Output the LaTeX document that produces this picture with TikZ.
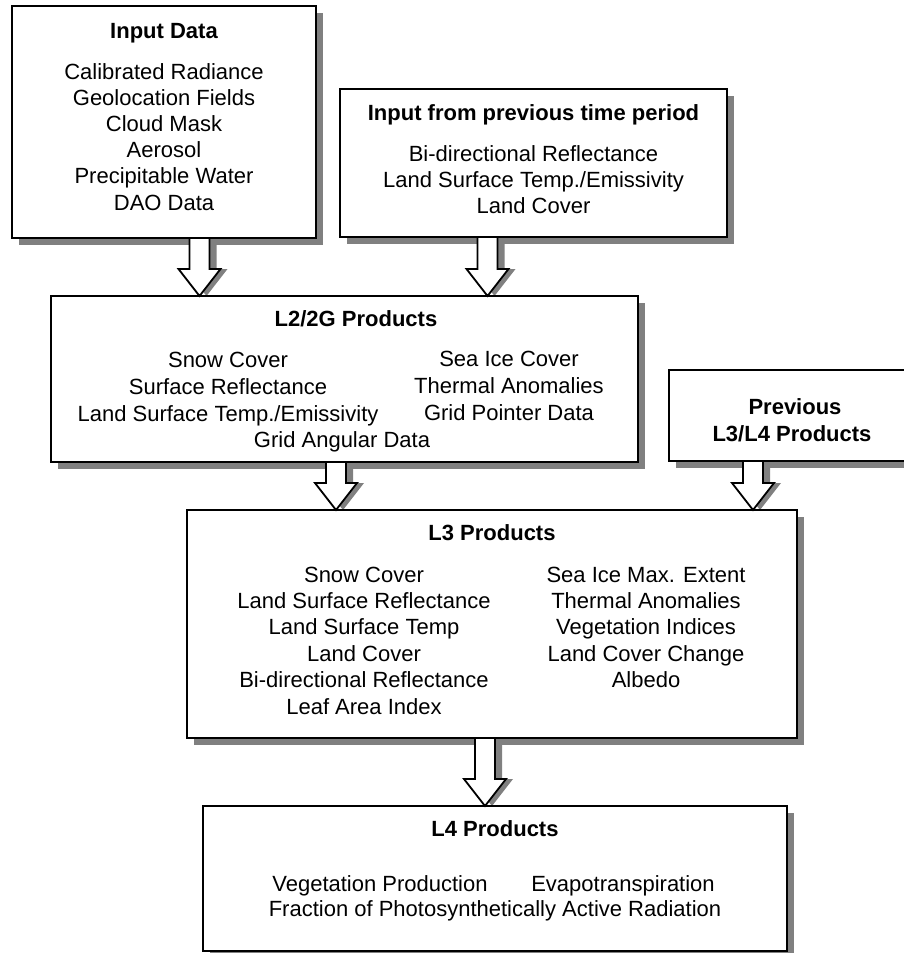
\documentclass[tikz,border=0pt]{standalone}
\usepackage{fontspec}
\setmainfont{Liberation Sans}
\usetikzlibrary{calc,fit,shadows}
\pgfdeclarelayer{bg}
\pgfsetlayers{bg,main}
\tikzset{
  box/.style={draw=black, line width=1.8pt, fill=white, inner sep=0pt, outer sep=0pt,
    drop shadow={shadow xshift=7pt, shadow yshift=-7pt, fill=black!50, opacity=1}},
  txt/.style={anchor=base, inner sep=0pt, font=\fontsize{22}{26.4}\selectfont},
  ttl/.style={anchor=base, inner sep=0pt, font=\fontsize{22}{26.4}\selectfont\bfseries},
  arrowbody/.style={draw=black, line width=1.8pt, fill=white, line join=miter},
  arrowshadow/.style={fill=black!50},
}
\newcommand{\arrowpoly}[3]{%
  let \p1=(#2.south), \p2=(#3.north) in
  ({#1pt-10pt},\y1) -- ({#1pt-10pt},{\y2+27pt}) -- ({#1pt-21pt},{\y2+27pt}) --
  ({#1pt},\y2) -- ({#1pt+21pt},{\y2+27pt}) -- ({#1pt+10pt},{\y2+27pt}) --
  ({#1pt+10pt},\y1) -- cycle}
\newcommand{\blockarrow}[3]{%
  \begin{pgfonlayer}{bg}
    \path[arrowshadow, shift={(7pt,-7pt)}] \arrowpoly{#1}{#2}{#3};
  \end{pgfonlayer}
  \path[arrowbody] \arrowpoly{#1}{#2}{#3};
}
\newcommand{\textlines}[5]{% prefix, x, first baseline, spacing, list
  \foreach \lbl [count=\i] in {#5}
    \node[txt] (#1-\i) at (#2, {#3+(\i-1)*#4}) {\lbl};
}
\begin{document}
\begin{tikzpicture}[x=1pt, y=-1pt]
\useasboundingbox (0,0) rectangle (903,953);

% boxes
\node[box, fit={(12,6) (316,238)}] (in1) {};
\node[box, fit={(340,89) (727,237)}] (in2) {};
\node[box, fit={(51,296) (638,462)}] (l2) {};
\node[box, fit={(669,370) (922,461)}] (prev) {};
\node[box, fit={(187,510) (797,738)}] (l3) {};
\node[box, fit={(203,806) (787,951)}] (l4) {};

% Input Data
\node[ttl] (in1t) at (164,38) {Input Data};
\textlines{in1l}{164}{79}{26.2}{Calibrated Radiance,Geolocation Fields,Cloud Mask,Aerosol,Precipitable Water,DAO Data}

% Input from previous time period
\node[ttl] (in2t) at (533.5,120) {Input from previous time period};
\textlines{in2l}{533.5}{161}{26}{Bi-directional Reflectance,Land Surface Temp./Emissivity,Land Cover}

% L2/2G
\node[ttl] (l2t) at (356,326) {L2/2G Products};
\textlines{l2a}{228}{367}{27}{Snow Cover,Surface Reflectance,Land Surface Temp./Emissivity}
\textlines{l2b}{509}{366}{27}{Sea Ice Cover,Thermal Anomalies,Grid Pointer Data}
\node[txt] (l2c) at (342,447) {Grid Angular Data};

% Previous
\node[ttl] (prevt1) at (795,414) {Previous};
\node[ttl] (prevt2) at (792,441) {L3/L4 Products};

% L3
\node[ttl] (l3t) at (492,540) {L3 Products};
\textlines{l3a}{364}{582}{26.4}{Snow Cover,Land Surface Reflectance,Land Surface Temp,Land Cover,Bi-directional Reflectance,Leaf Area Index}
\textlines{l3b}{646}{582}{26.4}{Sea Ice Max. Extent,Thermal Anomalies,Vegetation Indices,Land Cover Change,Albedo}

% L4
\node[ttl] (l4t) at (495,836) {L4 Products};
\node[txt] (l4a) at (380,891) {Vegetation Production};
\node[txt] (l4b) at (623,891) {Evapotranspiration};
\node[txt] (l4c) at (495,916) {Fraction of Photosynthetically Active Radiation};

% arrows
\blockarrow{199.5}{in1}{l2}
\blockarrow{487.5}{in2}{l2}
\blockarrow{336}{l2}{l3}
\blockarrow{753}{prev}{l3}
\blockarrow{485}{l3}{l4}
\end{tikzpicture}
\end{document}
